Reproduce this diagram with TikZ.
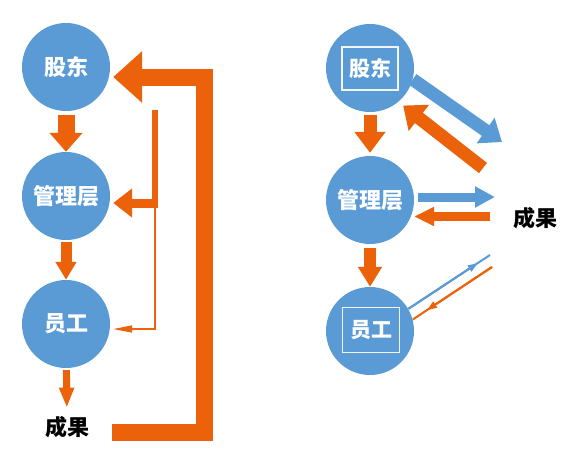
\documentclass[tikz,border=0pt]{standalone}
\usepackage{fontspec}
\setmainfont{Noto Sans CJK SC}
\usetikzlibrary{arrows.meta,calc}
\definecolor{cblue}{RGB}{91,155,213}
\definecolor{corange}{RGB}{235,98,10}
\tikzset{
  circ/.style={circle, fill=cblue, minimum size=88pt, inner sep=0pt, text=white,
    font=\fontsize{22}{26}\selectfont\bfseries},
  framebox/.style={draw=white!90!cblue, line width=1.5pt, minimum width=56pt, minimum height=43pt,
    inner sep=0pt, text=white, font=\fontsize{21}{26}\selectfont\bfseries},
  res/.style={text=black, font=\fontsize{22}{26}\selectfont\bfseries},
  oline/.style={draw=corange, fill=corange},
  bline/.style={draw=cblue, fill=cblue},
}
\begin{document}
\begin{tikzpicture}[x=1pt,y=-1pt]
\useasboundingbox (0,0) rectangle (573,448);
\fill[white] (0,0) rectangle (573,448);
% ---------- left panel ----------
\node[circ] (g1) at (66,67) {股东};
\node[circ] (m1) at (66,196) {管理层};
\node[circ] (y1) at (66,324) {员工};
\node[res] (c1) at (67,427) {成果};
\draw[oline, line width=17pt, -{Triangle[length=19pt,width=32pt]}, shorten <=4pt] (g1) -- (m1);
\draw[oline, line width=11pt, -{Triangle[length=18pt,width=20pt]}, shorten <=2pt] (m1) -- (y1);
\draw[oline, line width=7pt, -{Triangle[length=20pt,width=14pt]}, shorten <=2pt, shorten >=5pt] (y1) -- (c1);
% big feedback
\coordinate (fbs) at (112,432);
\coordinate (fbc1) at (204,432);
\coordinate (fbc2) at (204,77);
\draw[oline, fill=none, line width=17pt, line join=miter, -{Triangle[length=29pt,width=50pt]}, shorten >=3pt]
  (fbs) -- (fbc1) -- (fbc2) -- ([yshift=-10pt]g1.east);
% thin feedback
\coordinate (tf0) at (155,110);
\coordinate (tf1) at (155,208);
\coordinate (tf2) at (158,203);
\coordinate (tf3) at (155,203);
\coordinate (tf4) at (155,329);
\draw[oline, line width=6pt] (tf0) -- (tf1);
\draw[oline, line width=9pt, -{Triangle[length=19pt,width=28pt]}, shorten >=3pt] (tf2) -- ([yshift=-7pt]m1.east);
\draw[oline, fill=none, line width=1.5pt, line join=miter, -{Triangle[length=19pt,width=7pt]}, shorten >=3pt]
  (tf3) -- (tf4) -- ([yshift=-5pt]y1.east);
% ---------- right panel ----------
\node[circ] (g2) at (370,68) {};
\node[framebox] (g2t) at (370,68.5) {股东};
\node[circ] (m2) at (370,200) {管理层};
\node[circ] (y2) at (370,331) {};
\node[framebox, minimum width=57pt, minimum height=45pt] (y2t) at (371,330) {员工};
\node[res] (c2) at (535,218) {成果};
\draw[oline, line width=13pt, -{Triangle[length=21pt,width=30pt]}, shorten <=3pt, shorten >=3pt] (g2) -- (m2);
\draw[oline, line width=12pt, -{Triangle[length=20pt,width=23pt]}, shorten <=4pt] (m2) -- (y2);
% big diagonals
\coordinate (bt1) at (502,142);
\draw[bline, line width=13pt, -{Triangle[length=20pt,width=30pt]}] (g2.-15) -- (bt1);
\coordinate (ob) at (483,168);
\draw[oline, line width=13pt, -{Triangle[length=20pt,width=32pt]}, shorten >=6pt] (ob) -- (g2.-50);
% horizontals
\coordinate (bh) at (495,197);
\draw[bline, line width=9pt, -{Triangle[length=20pt,width=20pt]}, shorten <=4pt] ([yshift=3pt]m2.east) -- (bh);
\coordinate (oh) at (490,216.5);
\draw[oline, line width=9pt, -{Triangle[length=20pt,width=18pt]}] (oh) -- ([yshift=-16.5pt]m2.east);
% thin diagonals
\coordinate (tb) at (490,255);
\draw[bline, line width=2pt] (y2.30) -- (tb);
\draw[bline, line width=2pt, -{Triangle[length=10pt,width=7pt]}] (y2.30) -- ($(y2.30)!0.85!(tb)$);
\coordinate (to) at (492,267);
\draw[oline, line width=2pt] (to) -- (y2.15);
\draw[oline, line width=2pt, -{Triangle[length=10pt,width=7pt]}] (to) -- ($(to)!0.82!(y2.15)$);
\end{tikzpicture}
\end{document}
